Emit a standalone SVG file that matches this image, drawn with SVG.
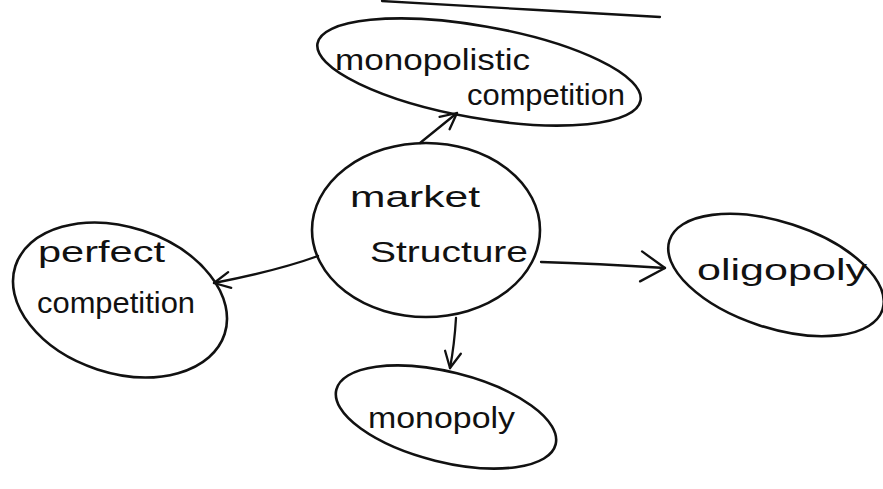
<svg xmlns="http://www.w3.org/2000/svg" width="883" height="489" viewBox="0 0 883 489">
<style>
.n{fill:none;stroke:#111;stroke-width:2.6}
.c{fill:none;stroke:#111;stroke-width:2.3;stroke-linecap:round;stroke-linejoin:round}
.t{font-family:"Liberation Sans","DejaVu Sans",sans-serif;font-size:30px;fill:#111}
</style>
<defs>
<marker id="ah" viewBox="0 0 20 20" refX="18" refY="10" markerWidth="20" markerHeight="20" markerUnits="userSpaceOnUse" orient="auto">
<path d="M2,2 L18,10 L2,18" fill="none" stroke="#111" stroke-width="2.3" stroke-linecap="round" stroke-linejoin="round"/>
</marker>
<marker id="ahBig" viewBox="0 0 30 36" refX="28" refY="18" markerWidth="30" markerHeight="36" markerUnits="userSpaceOnUse" orient="auto">
<path d="M4,3 L28,18 L4,33" fill="none" stroke="#111" stroke-width="2.3" stroke-linecap="round" stroke-linejoin="round"/>
</marker>
</defs>
<rect width="883" height="489" fill="#fff"/>
<path class="c" d="M382,1 C470,6 570,12 660,17"/>
<g id="connectors">
<path class="c" d="M420,143 L457,113" marker-end="url(#ah)"/>
<path class="c" d="M318,256 C285,268 250,276 214,283" marker-end="url(#ah)"/>
<path class="c" d="M541,262 C580,263 620,265 665,268" marker-end="url(#ahBig)"/>
<path class="c" d="M456,318 C455,335 453,352 450,368" marker-end="url(#ah)"/>
</g>
<g id="monopolistic">
<ellipse class="n" cx="479" cy="72" rx="164" ry="46" transform="rotate(10 479 72)"/>
<text class="t" x="335" y="70" textLength="195" lengthAdjust="spacingAndGlyphs">monopolistic</text>
<text class="t" x="467" y="105" font-size="26" textLength="158" lengthAdjust="spacingAndGlyphs">competition</text>
</g>
<g id="market">
<ellipse class="n" cx="426" cy="230" rx="114" ry="87"/>
<text class="t" x="350" y="207" textLength="130" lengthAdjust="spacingAndGlyphs">market</text>
<text class="t" x="370" y="262" textLength="158" lengthAdjust="spacingAndGlyphs">Structure</text>
</g>
<g id="perfect">
<ellipse class="n" cx="120" cy="300" rx="110" ry="73" transform="rotate(18 120 300)"/>
<text class="t" x="38" y="262" textLength="127" lengthAdjust="spacingAndGlyphs">perfect</text>
<text class="t" x="37" y="313" textLength="158" lengthAdjust="spacingAndGlyphs">competition</text>
</g>
<g id="oligopoly">
<ellipse class="n" cx="776" cy="275" rx="112" ry="53" transform="rotate(18 776 275)"/>
<text class="t" x="697" y="280" font-size="34" textLength="170" lengthAdjust="spacingAndGlyphs">oligopoly</text>
</g>
<g id="monopoly">
<ellipse class="n" cx="446" cy="417" rx="113" ry="45" transform="rotate(14 446 417)"/>
<text class="t" x="368" y="428" textLength="147" lengthAdjust="spacingAndGlyphs">monopoly</text>
</g>
</svg>
